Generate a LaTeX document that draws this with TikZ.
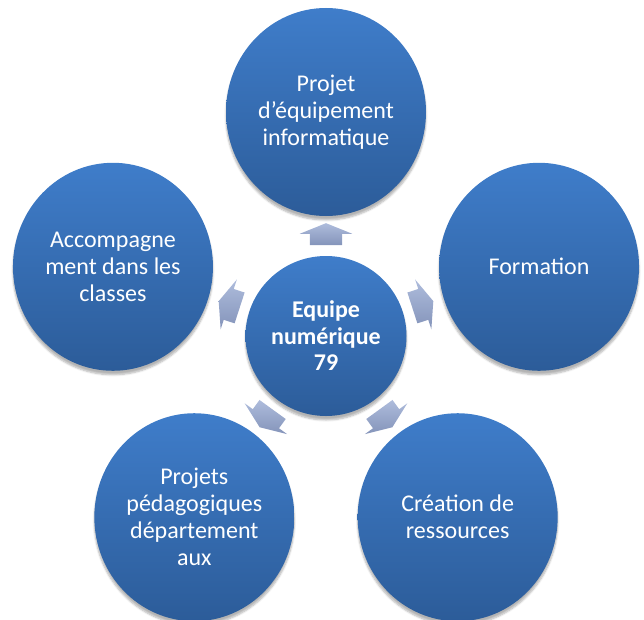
\documentclass[tikz,border=0pt]{standalone}
\usepackage{fontspec}
\setmainfont{Carlito}
\usetikzlibrary{shapes.geometric,shapes.arrows,shadows.blur,calc}
\definecolor{bubbletop}{RGB}{63,125,202}
\definecolor{bubblebottom}{RGB}{44,92,153}
\definecolor{spoketop}{RGB}{174,188,220}
\definecolor{spokebottom}{RGB}{132,148,186}
\tikzset{
  bubble/.style={ellipse, minimum width=200pt, minimum height=208pt, inner sep=0pt,
    top color=bubbletop, bottom color=bubblebottom, text=white, align=center,
    font=\fontsize{24}{27}\selectfont,
    blur shadow={shadow xshift=0pt, shadow yshift=-4pt, shadow blur steps=6, shadow opacity=30}},
  hub/.style={bubble, minimum width=161pt, minimum height=160pt,
    font=\bfseries\fontsize{24}{26.5}\selectfont},
  spoke/.style={single arrow, minimum height=22pt, minimum width=52pt,
    inner xsep=0pt, inner ysep=16pt,
    single arrow head extend=10pt, single arrow tip angle=136,
    top color=spoketop, bottom color=spokebottom}
}
\begin{document}
\begin{tikzpicture}[x=1pt,y=1pt]
  \path[use as bounding box, clip] (-326,336) rectangle (318,-283);
  \node[hub] (hub) at (0,0) {Equipe\\numérique\\79};
  \path
    (90:224) node[bubble] (equip){Projet\\d’équipement\\informatique}
    (18:224) node[bubble] (form){Formation}
    (-54:224) node[bubble] (crea){Création de\\ressources}
    (-126:224) node[bubble] (proj){Projets\\pédagogiques\\département\\aux}
    (162:224) node[bubble] (accomp){Accompagne\\ment dans les\\classes};
  \begin{scope}
    \foreach \dest/\ang in {equip/90, form/18, crea/-54, proj/-126, accomp/162}
      \node[spoke, rotate=\ang] (to\dest) at ($(hub)!0.44!(\dest)$) {};
  \end{scope}
\end{tikzpicture}
\end{document}
